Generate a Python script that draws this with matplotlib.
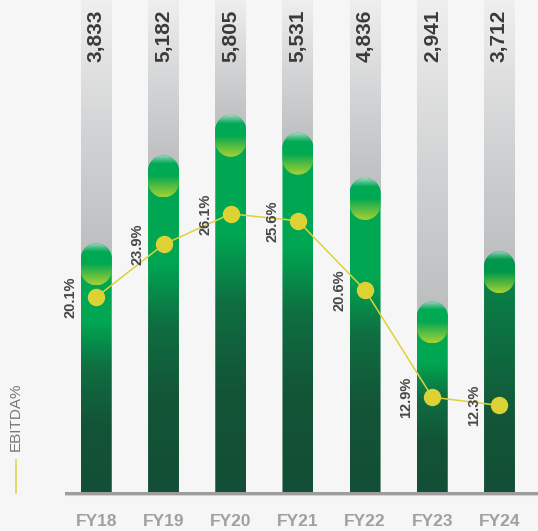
import numpy as np
import matplotlib
matplotlib.use("Agg")
import matplotlib.pyplot as plt
from matplotlib.colors import LinearSegmentedColormap
from matplotlib.patches import Polygon
from matplotlib.lines import Line2D
import matplotlib.transforms as mtransforms

years = ["FY18", "FY19", "FY20", "FY21", "FY22", "FY23", "FY24"]
ebitda = [3833, 5182, 5805, 5531, 4836, 2941, 3712]
ebitda_pct = [20.1, 23.9, 26.1, 25.6, 20.6, 12.9, 12.3]

plt.rcParams['font.family'] = ['Liberation Sans', 'DejaVu Sans']

bg = '#f6f6f6'
fig = plt.figure(figsize=(5.38, 5.31), dpi=100, facecolor=bg)
ax = fig.add_axes([0.1227, 0.0716, 0.8773, 0.9284])
ax.set_facecolor('none')

ymax = 7568
width = 0.46
rx = width / 2
ry = 238          # ~15 px in data units
cap_h = 645       # ~42 px

body_cmap = LinearSegmentedColormap.from_list('body', [
    (0.0, '#124f36'), (0.27, '#135437'), (0.5, '#0f6e41'),
    (0.68, '#00a651'), (1.0, '#00a853')])
body_last = LinearSegmentedColormap.from_list('body_last', [
    (0.0, '#124f36'), (0.3, '#135538'), (1.0, '#078b4b')])
cap_cmap = LinearSegmentedColormap.from_list('cap', [
    (0.0, '#a6d334'), (0.3, '#45b846'), (0.5, '#00a852'),
    (0.78, '#00aa55'), (0.9, '#5cc494'), (1.0, '#aee2ca')])
cap_last = LinearSegmentedColormap.from_list('cap_last', [
    (0.0, '#a6d334'), (0.3, '#3fae43'), (0.5, '#00954a'),
    (0.78, '#00994e'), (0.9, '#58ba8a'), (1.0, '#aee2ca')])
gray_cmap = LinearSegmentedColormap.from_list('gray', ['#bcbdbf', '#d3d4d5', '#efefef'])

grad = np.linspace(0, 1, 256).reshape(-1, 1)


def pill(x0, x1, y0, y1, top=True, bottom=False):
    xc = (x0 + x1) / 2
    t = np.linspace(0, np.pi, 40)
    pts = []
    if bottom:
        pts += list(zip(xc + rx * np.cos(np.pi + t), y0 + ry + ry * np.sin(np.pi + t)))
    else:
        pts += [(x0, y0), (x1, y0)]
    if top:
        pts += list(zip(xc + rx * np.cos(t), y1 - ry + ry * np.sin(t)))
    else:
        pts += [(x1, y1), (x0, y1)]
    return Polygon(pts, closed=True, facecolor='none', edgecolor='none')


def fill(patch, cmap, x0, x1, y0, y1, z):
    ax.add_patch(patch)
    im = ax.imshow(grad, cmap=cmap, extent=(x0, x1, y0, y1), origin='lower',
                   aspect='auto', zorder=z, interpolation='bilinear')
    im.set_clip_path(patch)


x = np.arange(len(years))
for i, v in enumerate(ebitda):
    x0, x1 = x[i] - width / 2, x[i] + width / 2
    last = i == len(years) - 1
    # grey track above the bar
    fill(pill(x0, x1, v - ry, ymax, top=False), gray_cmap, x0, x1, v - ry, ymax, 1)
    # green body
    fill(pill(x0, x1, 0, v), body_last if last else body_cmap, x0, x1, 0, v, 2)
    # glossy cap
    fill(pill(x0, x1, v - cap_h, v, bottom=True), cap_last if last else cap_cmap,
         x0, x1, v - cap_h, v, 3)
    ax.text(x[i], 1 - 10 / 493, f"{v:,}", transform=ax.get_xaxis_transform(),
            rotation=90, ha='center', va='top', fontsize=15, fontweight='bold',
            color='#3a3a3a')

ax.set_xlim(-0.451, 6.573)
ax.set_ylim(0, ymax)
ax.set_xticks(x)
ax.set_xticklabels(years, fontsize=12.5, fontweight='bold', color='#a0a0a0')
ax.tick_params(axis='x', length=0, pad=15)
ax.set_yticks([])
for s in ['top', 'right', 'left']:
    ax.spines[s].set_visible(False)
ax.spines['bottom'].set_color('#9d9d9d')
ax.spines['bottom'].set_linewidth(2.2)
shadow = mtransforms.offset_copy(ax.get_xaxis_transform(), fig, y=-2.5, units='dots')
ax.plot([-0.451, 6.573], [0, 0], transform=shadow, color='#d4d4d4', lw=1.5,
        clip_on=False, zorder=0)

# EBITDA % line
ax2 = ax.twinx()
ax2.set_ylim(6.0, 41.5)
ax2.set_axis_off()
ax2.plot(x, ebitda_pct, color='#ddd23a', lw=1.1, marker='o', markersize=11.5,
         markerfacecolor='#ddd234', markeredgecolor='#ddd234', zorder=5)
for i, p in enumerate(ebitda_pct):
    ax2.annotate(f"{p}%", (x[i], p), xytext=(-18.5, 0), textcoords='offset points',
                 rotation=90, ha='center', va='center', fontsize=10.5,
                 fontweight='bold', color='#474747', zorder=6)

# legend
fig.add_artist(Line2D([16 / 538, 16 / 538], [38 / 531, 71 / 531],
                      transform=fig.transFigure, color='#e0d95c', lw=1.3))
fig.text(16 / 538, 114 / 531, "EBITDA%", rotation=90, ha='center', va='center',
         fontsize=11, color='#777777')

fig.savefig('out.png', dpi=100, facecolor=bg)
